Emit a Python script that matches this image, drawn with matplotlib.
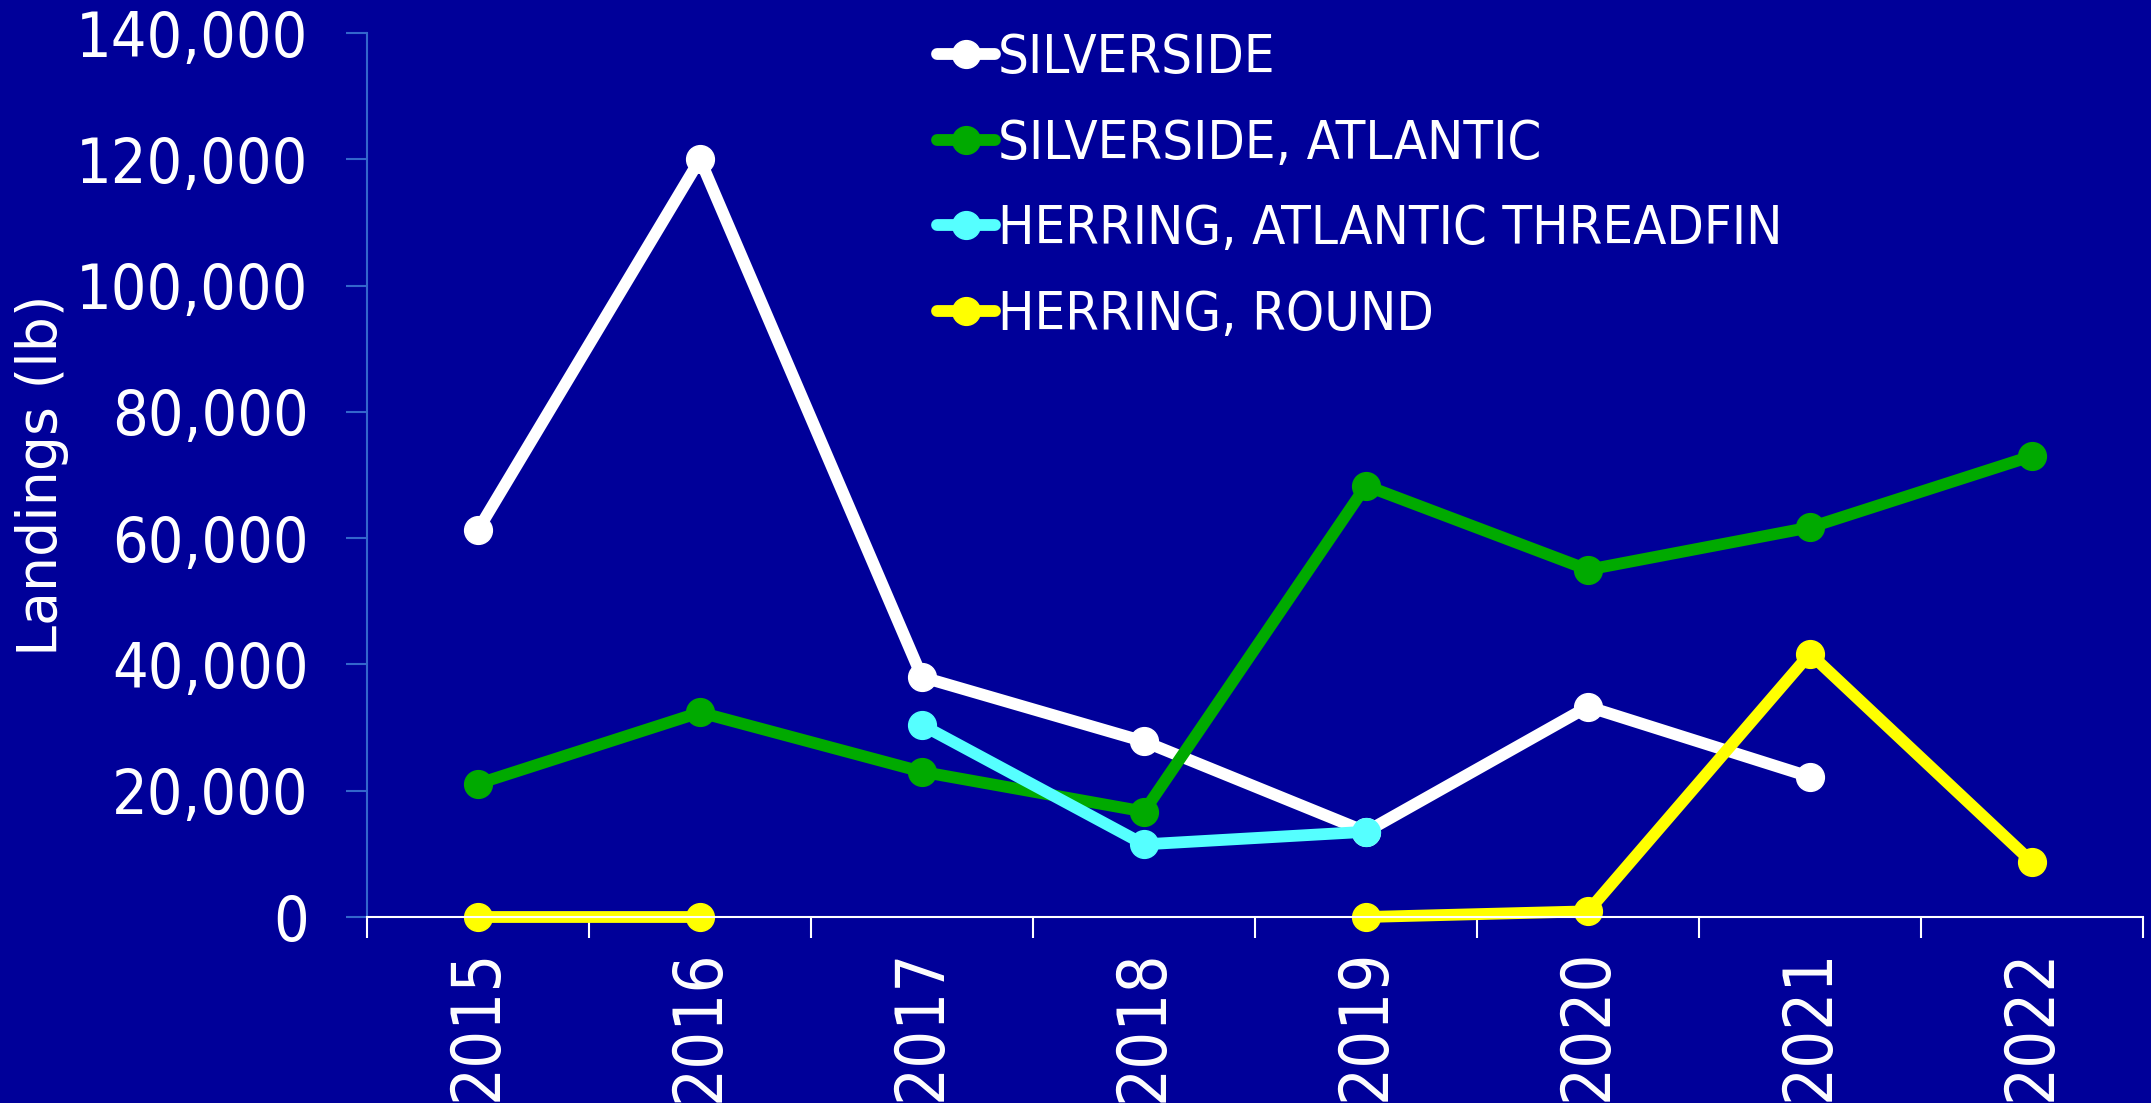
import numpy as np
import matplotlib
matplotlib.use("Agg")
import matplotlib.pyplot as plt
from matplotlib.ticker import FuncFormatter

# data
years = ["2015", "2016", "2017", "2018", "2019", "2020", "2021", "2022"]
silverside = [61300, 120000, 38000, 27800, 13500, 33300, 22200, np.nan]
silverside_atlantic = [21100, 32400, 23000, 16700, 68300, 55000, 61700, 73000]
herring_threadfin = [np.nan, np.nan, 30400, 11500, 13500, np.nan, np.nan, np.nan]
herring_round = [0, 0, np.nan, np.nan, 0, 900, 41700, 8700]

series_names = ["SILVERSIDE", "SILVERSIDE, ATLANTIC",
                "HERRING, ATLANTIC THREADFIN", "HERRING, ROUND"]
series_values = [silverside, silverside_atlantic, herring_threadfin, herring_round]
series_colors = ["#FFFFFF", "#00AA00", "#55FFFF", "#FFFF00"]

bg = "#000099"
axis_blue = "#3366CC"

plt.rcParams['font.family'] = ['DejaVu Sans']

fig = plt.figure(figsize=(21.51, 11.03), dpi=100, facecolor=bg)
ax = fig.add_axes([367 / 2151, 1 - 917 / 1103, (2143 - 367) / 2151, (917 - 33) / 1103])
ax.set_facecolor(bg)

x = np.arange(len(years))
for name, vals, col in zip(series_names, series_values, series_colors):
    ax.plot(x, vals, color=col, lw=8.5, marker='o', ms=20, label=name,
            clip_on=False, solid_capstyle='round')

ax.set_xlim(-0.5, len(years) - 0.5)
ax.set_ylim(0, 140000)

# category boundaries as major ticks, labels on minor ticks
ax.set_xticks(np.arange(-0.5, len(years), 1))
ax.set_xticklabels([])
ax.set_xticks(x, minor=True)
ax.set_xticklabels(years, minor=True, rotation=90, fontsize=48, color='white',
                   fontstretch='condensed')
ax.tick_params(axis='x', which='major', length=15, width=1.5, color='white',
               direction='out')
ax.tick_params(axis='x', which='minor', length=0, pad=23)

ax.set_yticks(np.arange(0, 140001, 20000))
ax.yaxis.set_major_formatter(FuncFormatter(lambda v, p: f"{v:,.0f}"))
ax.tick_params(axis='y', length=15, width=1.5, color=axis_blue, pad=27,
               labelsize=45, labelcolor='white')
for lab in ax.get_yticklabels():
    lab.set_fontstretch('condensed')

ax.spines['top'].set_visible(False)
ax.spines['right'].set_visible(False)
ax.spines['left'].set_color(axis_blue)
ax.spines['left'].set_linewidth(1.5)
ax.spines['bottom'].set_color('white')
ax.spines['bottom'].set_linewidth(1.5)

ax.set_ylabel("Landings (lb)", fontsize=40, color='white')
ax.yaxis.set_label_coords(-0.1677, 0.5)

leg = ax.legend(loc='upper left', bbox_to_anchor=(937 / 2151, 1 - 32 / 1103),
                bbox_transform=fig.transFigure, frameon=False,
                prop={'size': 39, 'stretch': 'condensed'},
                handlelength=1.07, handletextpad=0.05, borderpad=0,
                labelspacing=0.62, borderaxespad=0)
for t in leg.get_texts():
    t.set_color('white')

fig.savefig("out.png", dpi=100, facecolor=bg)
